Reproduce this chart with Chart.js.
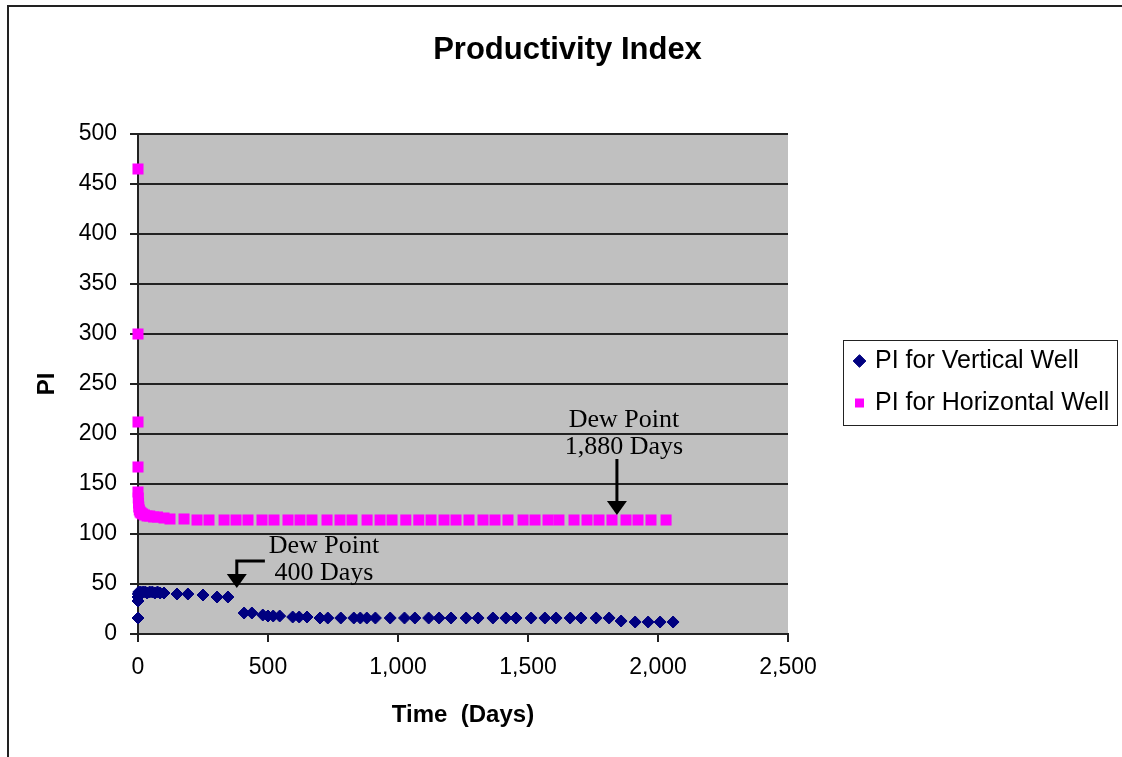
<!DOCTYPE html>
<html><head><meta charset="utf-8">
<script src="https://cdn.jsdelivr.net/npm/chart.js@4.4.1/dist/chart.umd.min.js"></script>
<style>html,body{margin:0;padding:0;background:#fff;} canvas{display:block;}</style>
</head><body>
<canvas id="c" width="1122" height="757"></canvas>
<script>
// ---------------- data ----------------
const seriesNames = ['PI for Vertical Well', 'PI for Horizontal Well'];

const vertDays = [0, 0, 0, 1, 3, 6, 10, 15, 20, 28, 35, 45, 55, 65, 75, 85, 100, 150, 192, 250, 304, 346,
  408, 438, 480, 500, 520, 545, 595, 620, 650, 700, 730, 780, 830, 855, 880, 913, 970, 1025, 1065, 1118,
  1158, 1204, 1262, 1308, 1365, 1415, 1454, 1512, 1565, 1608, 1662, 1704, 1762, 1812, 1858, 1912, 1962, 2008, 2058];
const vertPI = [16, 33, 37, 40, 42, 41, 42, 41, 42, 42, 41, 42, 42, 41, 42, 41, 41, 40, 40, 39, 37, 37,
  21, 21, 19, 18, 18, 18, 17, 17, 17, 16, 16, 16, 16, 16, 16, 16, 16, 16, 16, 16,
  16, 16, 16, 16, 16, 16, 16, 16, 16, 16, 16, 16, 16, 16, 13, 12, 12, 12, 12];

const horzDays = [0, 0, 0, 0, 0, 1, 2, 3, 5, 8, 12, 18, 25, 35, 45, 60, 75, 100, 123, 177, 227, 273, 331, 377,
  423, 477, 523, 577, 623, 669, 727, 777, 823, 881, 931, 977, 1030, 1080, 1127, 1177, 1223, 1273, 1327,
  1373, 1423, 1481, 1527, 1577, 1619, 1677, 1727, 1773, 1823, 1877, 1923, 1973, 2031];
const horzPI = [465, 300, 212, 167, 142, 136, 131, 127, 124, 122, 121, 120, 119, 118, 118, 117, 117, 116, 115, 115, 114, 114, 114, 114,
  114, 114, 114, 114, 114, 114, 114, 114, 114, 114, 114, 114, 114, 114, 114, 114, 114, 114, 114,
  114, 114, 114, 114, 114, 114, 114, 114, 114, 114, 114, 114, 114, 114];

const xTickValues = [0, 500, 1000, 1500, 2000, 2500];
const yTickValues = [0, 50, 100, 150, 200, 250, 300, 350, 400, 450, 500];

// annotation callouts, in data units (days, PI)
const annotations = [
  { text: ['Dew Point', '400 Days'], textX: 715, textY: [81, 54],
    path: [[488, 73], [380, 73], [380, 46]] },
  { text: ['Dew Point', '1,880 Days'], textX: 1869, textY: [207, 180],
    path: [[1842, 175], [1842, 119]] }
];

// ---------------- styling ----------------
const SANS = '"Liberation Sans", Arial, sans-serif';
const SERIF = '"Liberation Serif", "Times New Roman", serif';

const plotBg = {
  id: 'plotBg',
  beforeDraw(chart) {
    const {ctx, chartArea: a} = chart;
    ctx.save();
    ctx.fillStyle = '#C0C0C0';
    ctx.fillRect(a.left, a.top, a.right - a.left, a.bottom - a.top);
    ctx.restore();
  }
};

const dewNotes = {
  id: 'dewNotes',
  afterDatasetsDraw(chart) {
    const {ctx, scales: {x, y}} = chart;
    ctx.save();
    ctx.fillStyle = '#000';
    ctx.strokeStyle = '#000';
    ctx.font = '26px ' + SERIF;
    ctx.textAlign = 'center';
    ctx.textBaseline = 'alphabetic';
    for (const a of annotations) {
      a.text.forEach((t, i) => ctx.fillText(t, x.getPixelForValue(a.textX), y.getPixelForValue(a.textY[i])));
      const pts = a.path.map(p => [x.getPixelForValue(p[0]), y.getPixelForValue(p[1])]);
      const tip = pts[pts.length - 1], prev = pts[pts.length - 2];
      const dx = tip[0] - prev[0], dy = tip[1] - prev[1];
      const len = Math.hypot(dx, dy), ux = dx / len, uy = dy / len;
      const headLen = 14, headHalf = 10;
      const base = [tip[0] - ux * headLen, tip[1] - uy * headLen];
      ctx.lineWidth = 3;
      ctx.lineJoin = 'miter';
      ctx.beginPath();
      ctx.moveTo(pts[0][0], pts[0][1]);
      for (let i = 1; i < pts.length - 1; i++) ctx.lineTo(pts[i][0], pts[i][1]);
      ctx.lineTo(base[0], base[1]);
      ctx.stroke();
      ctx.beginPath();
      ctx.moveTo(tip[0], tip[1]);
      ctx.lineTo(base[0] - uy * headHalf, base[1] + ux * headHalf);
      ctx.lineTo(base[0] + uy * headHalf, base[1] - ux * headHalf);
      ctx.closePath();
      ctx.fill();
    }
    ctx.restore();
  }
};

const LEGEND_W = 334;
const legendPlace = {
  id: 'legendPlace',
  beforeLayout(chart) {
    const lg = chart.legend;
    if (lg && !lg._patched) {
      const fit = lg.fit;
      lg.fit = function () { fit.call(this); this.width = LEGEND_W; };
      lg._patched = true;
    }
  },
  afterLayout(chart) {
    const lg = chart.legend;
    const h = lg.height;
    lg.left = 839.5; lg.right = 839.5 + lg.width;
    lg.top = 331.5; lg.bottom = 331.5 + h;
  },
  afterDraw(chart) {
    const ctx = chart.ctx;
    ctx.save();
    ctx.strokeStyle = '#222';
    ctx.lineWidth = 1;
    ctx.strokeRect(843.5, 340.5, 274, 85);
    ctx.lineWidth = 2;
    ctx.strokeRect(8, 6, 2000, 2000);
    ctx.restore();
  }
};

const fmt = v => Number(v).toLocaleString('en-US');

new Chart(document.getElementById('c'), {
  type: 'scatter',
  data: {
    datasets: [
      {
        label: seriesNames[0],
        data: vertDays.map((d, i) => ({x: d, y: vertPI[i]})),
        pointStyle: 'rectRot',
        pointRadius: 6,
        pointBorderWidth: 1,
        backgroundColor: '#000080',
        borderColor: '#000080',
        showLine: false,
        clip: false
      },
      {
        label: seriesNames[1],
        data: horzDays.map((d, i) => ({x: d, y: horzPI[i]})),
        pointStyle: 'rect',
        pointRadius: 7.8,
        pointBorderWidth: 0,
        backgroundColor: '#FF00FF',
        borderColor: '#FF00FF',
        showLine: false,
        clip: false
      }
    ]
  },
  options: {
    responsive: false,
    animation: false,
    devicePixelRatio: 1,
    events: [],
    locale: 'en-US',
    layout: {padding: {left: 13, right: 0, top: 0, bottom: 0}},
    plugins: {
      title: {
        display: true,
        text: 'Productivity Index',
        color: '#000',
        font: {family: SANS, size: 31, weight: 'bold'},
        padding: {top: 31.4, bottom: 65.4}
      },
      legend: {
        display: true,
        position: 'right',
        align: 'start',
        labels: {
          usePointStyle: true,
          boxWidth: 6,
          boxHeight: 9,
          padding: 17,
          color: '#000',
          font: {family: SANS, size: 25}
        }
      },
      tooltip: {enabled: false}
    },
    scales: {
      x: {
        type: 'linear',
        min: 0, max: 2500,
        afterFit(s) { s.height = 123; },
        afterBuildTicks(s) { s.ticks = xTickValues.map(v => ({value: v})); },
        ticks: {
          color: '#000', padding: 12, autoSkip: false, maxRotation: 0,
          font: {family: SANS, size: 23},
          callback: v => fmt(v)
        },
        grid: {drawOnChartArea: false, drawTicks: true, tickLength: 8, color: '#222', lineWidth: 2},
        border: {display: true, color: '#222', width: 2},
        title: {
          display: true, text: 'Time  (Days)', color: '#000',
          font: {family: SANS, size: 24, weight: 'bold'},
          padding: {top: 0, bottom: 27}
        }
      },
      y: {
        type: 'linear',
        min: 0, max: 500,
        afterFit(s) { s.width = 125; },
        afterBuildTicks(s) { s.ticks = yTickValues.map(v => ({value: v})); },
        ticks: {
          color: '#000', padding: 13, autoSkip: false,
          font: {family: SANS, size: 23},
          callback: v => fmt(v)
        },
        grid: {drawOnChartArea: true, drawTicks: true, tickLength: 8, color: '#222', lineWidth: 2},
        border: {display: true, color: '#222', width: 2},
        title: {
          display: true, text: 'PI', color: '#000',
          font: {family: SANS, size: 24, weight: 'bold'},
          padding: {top: 20, bottom: 0}
        }
      }
    }
  },
  plugins: [plotBg, dewNotes, legendPlace]
});
</script>
</body></html>
